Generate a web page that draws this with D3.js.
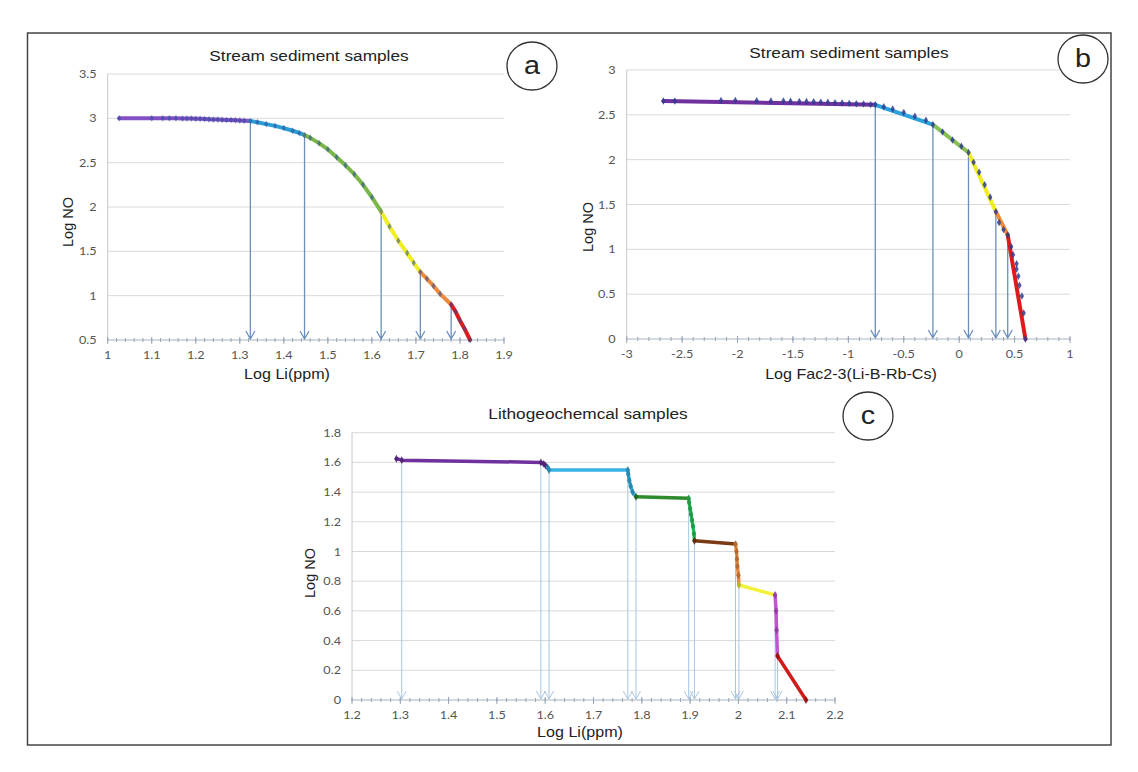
<!DOCTYPE html>
<html>
<head>
<meta charset="utf-8">
<script src="https://cdn.jsdelivr.net/npm/d3@7.9.0/dist/d3.min.js"></script>
<style>
  body { margin: 0; background: #fff; }
  svg { display: block; }
  text { font-family: 'Liberation Sans', Arial, sans-serif; fill: #222; }
  .tick-label { font-family: Lato, 'Open Sans', sans-serif; font-size: 11px; fill: #555; }
</style>
</head>
<body>
<svg id="chart" width="1138" height="772"></svg>
<script>
// (a) stream sediment samples, Log Li(ppm) vs Log NO
const aLogLi = [1.026, 1.10, 1.125, 1.14, 1.155, 1.17, 1.18, 1.19, 1.20, 1.21,
  1.22, 1.23, 1.24, 1.25, 1.26, 1.27, 1.28, 1.29, 1.30, 1.31,
  1.324, 1.34, 1.36, 1.38, 1.40, 1.42, 1.435, 1.447, 1.46, 1.48,
  1.50, 1.52, 1.54, 1.56, 1.58, 1.60, 1.621, 1.64, 1.66, 1.68,
  1.695, 1.71, 1.725, 1.74, 1.755, 1.78, 1.79, 1.80, 1.81, 1.823];
const aLogNO = [3.0, 3.0, 3.0, 3.0, 3.0, 2.999, 2.998, 2.997, 2.996, 2.994,
  2.992, 2.99, 2.988, 2.986, 2.984, 2.982, 2.98, 2.978, 2.976, 2.973,
  2.97, 2.955, 2.935, 2.915, 2.89, 2.86, 2.835, 2.81, 2.78, 2.72,
  2.65, 2.56, 2.47, 2.37, 2.25, 2.11, 1.947, 1.78, 1.62, 1.48,
  1.37, 1.266, 1.19, 1.11, 1.02, 0.9, 0.82, 0.72, 0.63, 0.5];
const aBreakIdx = [0, 20, 27, 36, 41, 45, 49];
const aXTicks = [1, 1.1, 1.2, 1.3, 1.4, 1.5, 1.6, 1.7, 1.8, 1.9];
const aYTicks = [0.5, 1, 1.5, 2, 2.5, 3, 3.5];

// (b) stream sediment samples, factor 2-3 scores vs Log NO
const bFac = [-2.669, -2.566, -2.149, -2.02, -1.827, -1.699, -1.586, -1.522, -1.442, -1.378,
  -1.313, -1.249, -1.185, -1.12, -1.056, -0.992, -0.928, -0.863, -0.799, -0.757,
  -0.68, -0.6, -0.5, -0.4, -0.3, -0.237, -0.15, -0.06, 0.02, 0.084,
  0.13, 0.18, 0.23, 0.28, 0.331, 0.36, 0.40, 0.438, 0.47, 0.486,
  0.518, 0.518, 0.534, 0.544, 0.566, 0.582, 0.598];
const bLogNO = [2.655, 2.655, 2.66, 2.66, 2.657, 2.655, 2.655, 2.652, 2.65, 2.648,
  2.645, 2.642, 2.64, 2.636, 2.632, 2.628, 2.624, 2.62, 2.614, 2.612,
  2.59, 2.565, 2.525, 2.485, 2.44, 2.39, 2.31, 2.22, 2.15, 2.08,
  1.97, 1.86, 1.72, 1.58, 1.42, 1.30, 1.22, 1.16, 1.03, 0.94,
  0.84, 0.78, 0.70, 0.60, 0.48, 0.29, 0.0];
const bBreakIdx = [0, 19, 25, 29, 34, 37, 46];
const bXTicks = [-3, -2.5, -2, -1.5, -1, -0.5, 0, 0.5, 1];
const bYTicks = [0, 0.5, 1, 1.5, 2, 2.5, 3];

// (c) lithogeochemical samples
const cLogLi = [1.292, 1.303, 1.591, 1.597, 1.601, 1.605, 1.608, 1.771, 1.772, 1.774,
  1.777, 1.781, 1.788, 1.897, 1.898, 1.900, 1.902, 1.904, 1.906, 1.908,
  1.909, 1.994, 1.996, 1.997, 1.998, 2.000, 2.001, 2.076, 2.078, 2.079,
  2.081, 2.140];
const cLogNO = [1.625, 1.615, 1.600, 1.590, 1.578, 1.566, 1.549, 1.549, 1.52, 1.48,
  1.44, 1.40, 1.369, 1.358, 1.33, 1.29, 1.25, 1.21, 1.17, 1.12,
  1.072, 1.050, 1.00, 0.95, 0.90, 0.84, 0.774, 0.707, 0.60, 0.47,
  0.296, 0.0];
const cBreakIdx = [0, 5, 12, 13, 20, 21, 26, 27, 30, 31];
const cArrowIdx = [1, 2, 6, 7, 12, 13, 20, 21, 26, 27, 30];
const cXTicks = [1.2, 1.3, 1.4, 1.5, 1.6, 1.7, 1.8, 1.9, 2, 2.1, 2.2];
const cYTicks = [0, 0.2, 0.4, 0.6, 0.8, 1, 1.2, 1.4, 1.6, 1.8];

const svg = d3.select('#chart');
const STRETCH = 1.15;

function addText(g, x, y, str, size, anchor = 'middle', cls = null) {
  const t = g.append('text')
    .attr('transform', `translate(${x},${y}) scale(${STRETCH},1)`)
    .attr('text-anchor', anchor)
    .text(str);
  if (size) t.style('font-size', size + 'px');
  if (cls) t.attr('class', cls);
  return t;
}

// outer frame
svg.append('rect')
  .attr('x', 27.5).attr('y', 33).attr('width', 1083.5).attr('height', 712)
  .attr('fill', 'none').attr('stroke', '#444').attr('stroke-width', 1.5);

function drawPanel(p) {
  const x = d3.scaleLinear().domain(p.xDomain).range([p.left, p.right]);
  const y = d3.scaleLinear().domain(p.yDomain).range([p.bottom, p.top]);
  const g = svg.append('g');
  const y0 = y(p.yDomain[0]);

  // gridlines
  g.selectAll('line.grid')
    .data(p.yTicks.filter(v => v !== p.yDomain[0]))
    .enter().append('line')
    .attr('x1', p.left).attr('x2', p.right)
    .attr('y1', d => y(d)).attr('y2', d => y(d))
    .attr('stroke', '#d9d9d9').attr('stroke-width', 1);

  // y axis line + x axis line
  g.append('line').attr('x1', p.left).attr('x2', p.left)
    .attr('y1', p.top).attr('y2', y0).attr('stroke', '#c8c8c8');
  g.append('line').attr('x1', p.left).attr('x2', p.right)
    .attr('y1', y0).attr('y2', y0).attr('stroke', '#a8b4c4').attr('stroke-width', 1.2);

  // minor + major ticks on the x axis
  const minors = d3.range(p.xDomain[0], p.xDomain[1] + p.minor / 2, p.minor);
  g.selectAll('line.minor').data(minors).enter().append('line')
    .attr('x1', d => x(d)).attr('x2', d => x(d))
    .attr('y1', y0 - 2).attr('y2', y0 + 2)
    .attr('stroke', '#9aa6b6');
  g.selectAll('line.major').data(p.xTicks).enter().append('line')
    .attr('x1', d => x(d)).attr('x2', d => x(d))
    .attr('y1', y0 - 3).attr('y2', y0 + 4)
    .attr('stroke', '#9aa6b6');

  // tick labels
  p.yTicks.forEach(v => {
    addText(g, p.left - 11, y(v) + 4, String(v), null, 'end', 'tick-label');
  });
  p.xTicks.forEach(v => {
    addText(g, x(v), y0 + 19, String(v), null, 'middle', 'tick-label');
  });

  // arrows from breakpoints down to the axis
  g.selectAll('path.arrow').data(p.arrowIdx).enter().append('path')
    .attr('d', i => {
      const ax = x(p.xs[i]), ay = y(p.ys[i]), by = y0 - 1;
      return `M${ax},${ay}V${by}M${ax - 4.5},${by - 8}L${ax},${by}L${ax + 4.5},${by - 8}`;
    })
    .attr('fill', 'none')
    .attr('stroke', p.arrowColor)
    .attr('stroke-width', p.arrowWidth);

  // fitted segments
  const line = d3.line().x(i => x(p.xs[i])).y(i => y(p.ys[i]));
  p.breaks.slice(0, -1).forEach((start, k) => {
    const end = p.breaks[k + 1];
    const idx = p.straight ? [start, end] : d3.range(start, end + 1);
    g.append('path')
      .attr('d', line(idx))
      .attr('fill', 'none')
      .attr('stroke', p.colors[k])
      .attr('stroke-width', p.lineWidth)
      .attr('stroke-linecap', 'round')
      .attr('stroke-linejoin', 'round');
  });

  // data points
  const sym = d3.symbol(d3.symbolDiamond).size(p.markerSize);
  const segOf = i => Math.max(0, d3.bisectRight(p.breaks, i) - 1);
  g.selectAll('path.pt').data(d3.range(p.xs.length)).enter().append('path')
    .attr('d', sym)
    .attr('transform', i => `translate(${x(p.xs[i])},${y(p.ys[i])})`)
    .attr('fill', i => p.markerColor || d3.color(p.colors[Math.min(segOf(i), p.colors.length - 1)]).darker(0.9))
    .attr('opacity', p.markerOpacity);

  // titles
  addText(g, p.titleX, p.titleY, p.title, 15);
  addText(g, p.xTitleX, p.xTitleY, p.xTitle, 14);
  g.append('text')
    .attr('transform', `translate(${p.yTitleX},${p.yTitleY}) rotate(-90)`)
    .attr('text-anchor', 'middle')
    .attr('dominant-baseline', 'central')
    .style('font-size', '14.5px')
    .text('Log  NO');

  // panel letter
  g.append('ellipse')
    .attr('cx', p.circle[0]).attr('cy', p.circle[1]).attr('rx', 25).attr('ry', 24)
    .attr('fill', '#fff').attr('stroke', '#333').attr('stroke-width', 1.3);
  addText(g, p.circle[0], p.circle[1] + 8, p.letter, 25);
}

drawPanel({
  xs: aLogLi, ys: aLogNO, breaks: aBreakIdx, arrowIdx: aBreakIdx.slice(1, -1),
  xTicks: aXTicks, yTicks: aYTicks, xDomain: [1, 1.9], yDomain: [0.5, 3.5], minor: 0.02,
  left: 107.7, right: 504, top: 74, bottom: 340,
  colors: ['#8450c8', '#2a9fd6', '#7ab648', '#eeee22', '#ee8a3c', '#e01a1c'],
  lineWidth: 4, straight: false, markerColor: '#2c4a9a', markerSize: 14, markerOpacity: 0.55,
  arrowColor: '#6b90bb', arrowWidth: 1.3,
  title: 'Stream sediment samples', titleX: 309, titleY: 61,
  xTitle: 'Log Li(ppm)', xTitleX: 287, xTitleY: 379,
  yTitleX: 68, yTitleY: 222, circle: [532, 66], letter: 'a'
});

drawPanel({
  xs: bFac, ys: bLogNO, breaks: bBreakIdx, arrowIdx: bBreakIdx.slice(1, -1),
  xTicks: bXTicks, yTicks: bYTicks, xDomain: [-3, 1], yDomain: [0, 3], minor: 0.1,
  left: 626.7, right: 1070, top: 70, bottom: 339,
  colors: ['#7030a0', '#2aa3dc', '#86c050', '#eeee22', '#ee8a3c', '#e01a1c'],
  lineWidth: 4, straight: true, markerColor: '#2e3c8f', markerSize: 16, markerOpacity: 0.85,
  arrowColor: '#6b90bb', arrowWidth: 1.3,
  title: 'Stream sediment samples', titleX: 849, titleY: 58,
  xTitle: 'Log Fac2-3(Li-B-Rb-Cs)', xTitleX: 851, xTitleY: 379,
  yTitleX: 588, yTitleY: 227, circle: [1083, 59], letter: 'b'
});

drawPanel({
  xs: cLogLi, ys: cLogNO, breaks: cBreakIdx, arrowIdx: cArrowIdx,
  xTicks: cXTicks, yTicks: cYTicks, xDomain: [1.2, 2.2], yDomain: [0, 1.8], minor: 0.02,
  left: 352, right: 835, top: 432.7, bottom: 700,
  colors: ['#7030a0', '#38b4e6', '#2e8b2e', '#2ecc5e', '#7a3a14', '#f08c40', '#f2f23a', '#c454d4', '#d21a1a'],
  lineWidth: 3.5, straight: false, markerColor: null, markerSize: 18, markerOpacity: 0.9,
  arrowColor: '#a9c6e0', arrowWidth: 1,
  title: 'Lithogeochemcal samples', titleX: 588, titleY: 419,
  xTitle: 'Log Li(ppm)', xTitleX: 580, xTitleY: 737,
  yTitleX: 310, yTitleY: 573, circle: [868, 416], letter: 'c'
});
</script>
</body>
</html>
